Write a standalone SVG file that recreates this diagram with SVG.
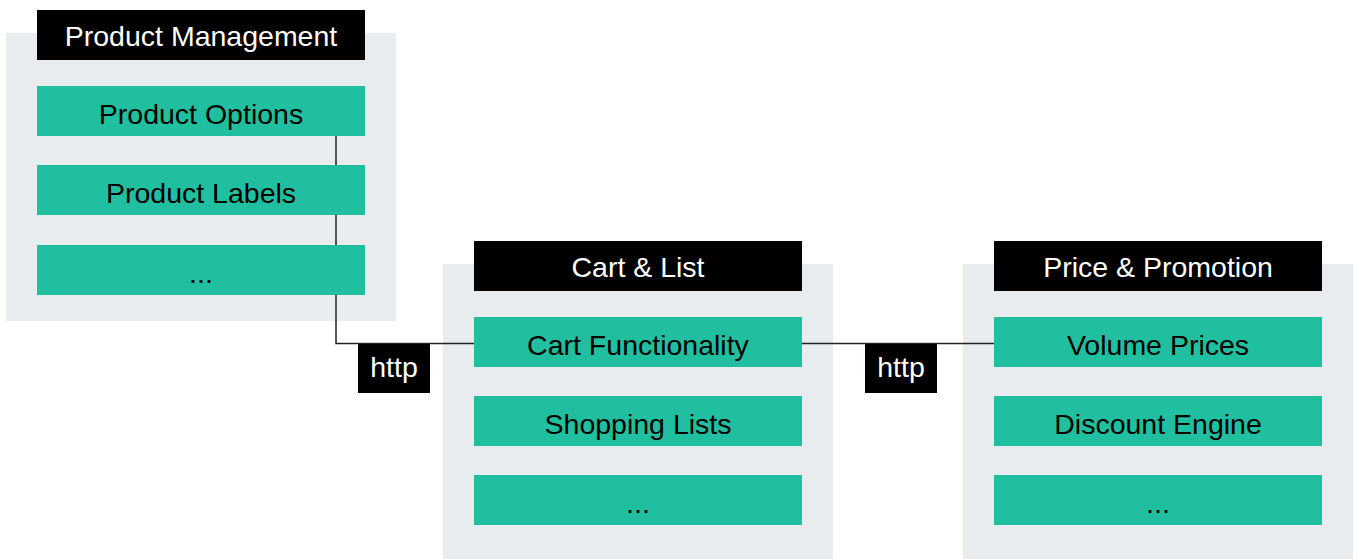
<svg xmlns="http://www.w3.org/2000/svg" width="1358" height="559" viewBox="0 0 1358 559">
<style>
.panel{fill:#e8ecef}
.hdr{fill:#000}
.item{fill:#1fbf9f}
.ht{font-family:"Liberation Sans",Arial,sans-serif;font-size:28.5px;fill:#fff;text-anchor:middle}
.it{font-family:"Liberation Sans",Arial,sans-serif;font-size:28.5px;fill:#000;text-anchor:middle}
.lbl{font-family:"Liberation Sans",Arial,sans-serif;font-size:28.5px;fill:#fff;text-anchor:middle}
.conn{fill:none;stroke:#222;stroke-width:1.5}
</style>
<rect width="1358" height="559" fill="#fff"/>
<g id="product-management">
<rect class="panel" x="6" y="33" width="390" height="288"/>
<rect class="hdr" x="37" y="10" width="328" height="50"/>
<text class="ht" x="201" y="46">Product Management</text>
</g>
<g id="cart-list">
<rect class="panel" x="443" y="264" width="390" height="295"/>
<rect class="hdr" x="474" y="241" width="328" height="50"/>
<text class="ht" x="638" y="277">Cart &amp; List</text>
</g>
<g id="price-promotion">
<rect class="panel" x="963" y="264" width="390" height="295"/>
<rect class="hdr" x="994" y="241" width="328" height="50"/>
<text class="ht" x="1158" y="277">Price &amp; Promotion</text>
</g>
<g id="connectors">
<path class="conn" d="M336 136 V343.5 H474"/>
<path class="conn" d="M802 343.5 H994"/>
</g>
<g id="product-options">
<rect class="item" x="37" y="86" width="328" height="50"/>
<text class="it" x="201" y="124">Product Options</text>
</g>
<g id="product-labels">
<rect class="item" x="37" y="165" width="328" height="50"/>
<text class="it" x="201" y="203">Product Labels</text>
</g>
<g id="product-more">
<rect class="item" x="37" y="245" width="328" height="50"/>
<text class="it" x="201" y="283">...</text>
</g>
<g id="cart-functionality">
<rect class="item" x="474" y="317" width="328" height="50"/>
<text class="it" x="638" y="355">Cart Functionality</text>
</g>
<g id="shopping-lists">
<rect class="item" x="474" y="396" width="328" height="50"/>
<text class="it" x="638" y="434">Shopping Lists</text>
</g>
<g id="cart-more">
<rect class="item" x="474" y="475" width="328" height="50"/>
<text class="it" x="638" y="513">...</text>
</g>
<g id="volume-prices">
<rect class="item" x="994" y="317" width="328" height="50"/>
<text class="it" x="1158" y="355">Volume Prices</text>
</g>
<g id="discount-engine">
<rect class="item" x="994" y="396" width="328" height="50"/>
<text class="it" x="1158" y="434">Discount Engine</text>
</g>
<g id="price-more">
<rect class="item" x="994" y="475" width="328" height="50"/>
<text class="it" x="1158" y="513">...</text>
</g>
<g id="http-1">
<rect class="hdr" x="358" y="344" width="72" height="49"/>
<text class="lbl" x="394" y="377">http</text>
</g>
<g id="http-2">
<rect class="hdr" x="865" y="344" width="72" height="49"/>
<text class="lbl" x="901" y="377">http</text>
</g>
</svg>
